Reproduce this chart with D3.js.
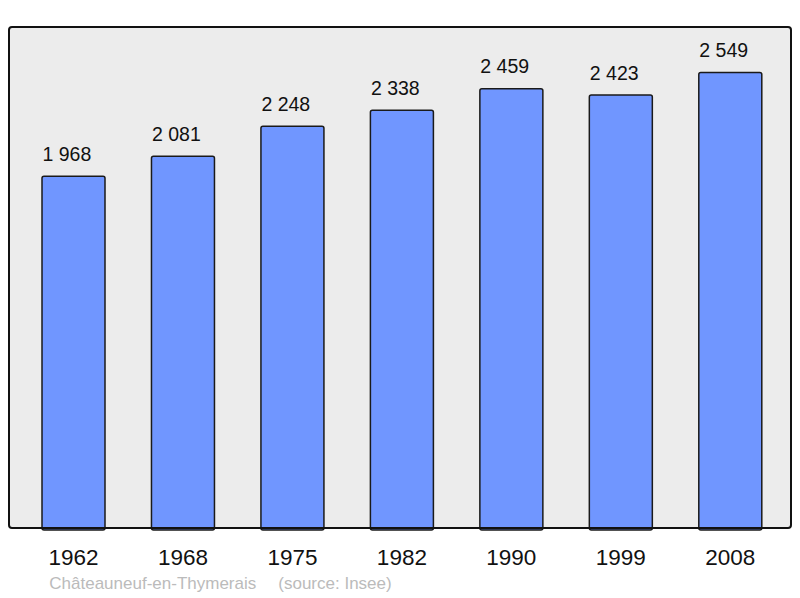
<!DOCTYPE html>
<html>
<head>
<meta charset="utf-8">
<script src="https://cdn.jsdelivr.net/npm/d3@7"></script>
<style>
  body { margin: 0; background: #fff; }
  svg { display: block; font-family: "Liberation Sans", Arial, sans-serif; }
</style>
</head>
<body>
<div id="chart"></div>
<script>
const years = ["1962", "1968", "1975", "1982", "1990", "1999", "2008"];
const population = [1968, 2081, 2248, 2338, 2459, 2423, 2549];
const commune = "Châteauneuf-en-Thymerais";
const source = "(source: Insee)";

const width = 800, height = 598;
const panel = { left: 9, top: 27, right: 791, bottom: 528 };

const svg = d3.select("#chart").append("svg")
    .attr("width", width)
    .attr("height", height);

svg.append("rect")
    .attr("x", panel.left)
    .attr("y", panel.top)
    .attr("width", panel.right - panel.left)
    .attr("height", panel.bottom - panel.top)
    .attr("rx", 3)
    .attr("fill", "#ececec");

const x = d3.scaleBand()
    .domain(years)
    .range([18.8, 785])
    .paddingInner(0.4245)
    .paddingOuter(0.212);

const y = d3.scaleLinear()
    .domain([0, d3.max(population) * 1.1])
    .range([panel.bottom, panel.top]);

const data = years.map((yr, i) => ({ year: yr, value: population[i] }));

// bars
svg.append("g")
    .selectAll("rect")
    .data(data)
    .join("rect")
    .attr("x", d => x(d.year))
    .attr("y", d => y(d.value))
    .attr("width", x.bandwidth())
    .attr("height", d => panel.bottom - y(d.value) + 2)
    .attr("rx", 2)
    .attr("fill", "#7096ff")
    .attr("stroke", "#1a1a1a")
    .attr("stroke-width", 1.5);

// value labels, left aligned with the bar
const fmt = v => d3.format(",")(v).replace(",", " ");
svg.append("g")
    .selectAll("text")
    .data(data)
    .join("text")
    .attr("x", d => x(d.year) + 0.5)
    .attr("y", d => y(d.value) - 15.5)
    .attr("text-anchor", "start")
    .attr("font-size", 19.5)
    .attr("fill", "#111")
    .text(d => fmt(d.value));

// panel border on top of bars
svg.append("rect")
    .attr("x", panel.left)
    .attr("y", panel.top)
    .attr("width", panel.right - panel.left)
    .attr("height", panel.bottom - panel.top)
    .attr("rx", 3)
    .attr("fill", "none")
    .attr("stroke", "#111")
    .attr("stroke-width", 2);

// x axis labels
const xAxis = svg.append("g")
    .attr("transform", `translate(0,${panel.bottom})`)
    .call(d3.axisBottom(x).tickSize(0).tickPadding(0));
xAxis.select(".domain").remove();
xAxis.selectAll("text")
    .attr("dy", null)
    .attr("y", 37)
    .attr("font-size", 22.5)
    .attr("font-family", "Liberation Sans, Arial, sans-serif")
    .attr("fill", "#111");

// footer
svg.append("text")
    .attr("x", 49.3)
    .attr("y", 589)
    .attr("font-size", 17)
    .attr("fill", "#bbbbbb")
    .text(commune);
svg.append("text")
    .attr("x", 278.3)
    .attr("y", 589)
    .attr("font-size", 17)
    .attr("fill", "#bbbbbb")
    .text(source);
</script>
</body>
</html>
